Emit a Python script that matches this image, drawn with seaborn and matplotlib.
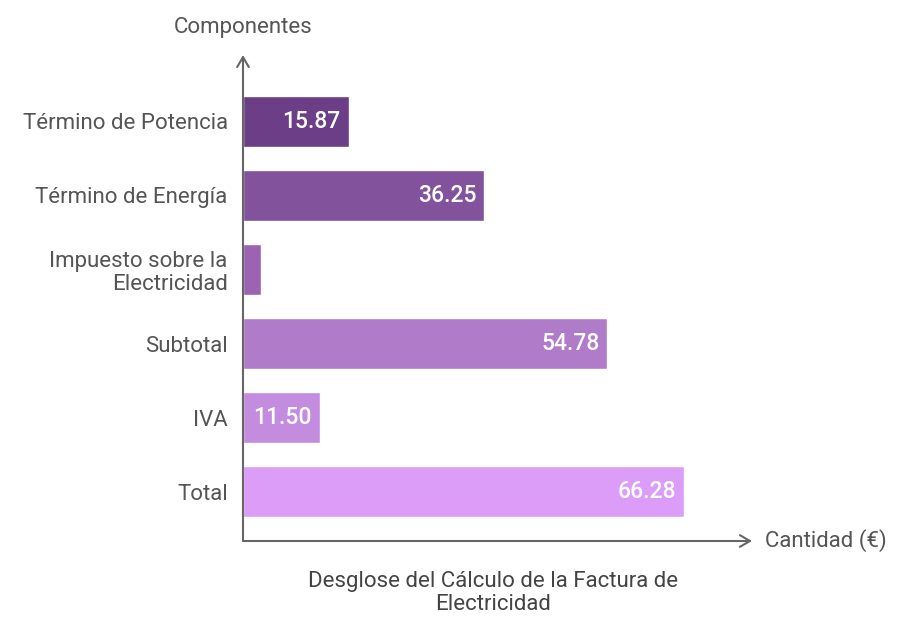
import matplotlib
matplotlib.use("Agg")
import matplotlib.pyplot as plt
import seaborn as sns
import pandas as pd

categories = ["Término de Potencia", "Término de Energía", "Impuesto sobre la\nElectricidad",
              "Subtotal", "IVA", "Total"]
values = [15.87, 36.25, 2.66, 54.78, 11.50, 66.28]
value_labels = ["15.87", "36.25", "", "54.78", "11.50", "66.28"]
colors = ["#6B3E87", "#83529C", "#9C63B3", "#B07BC8", "#C48CDE", "#DC9DF8"]

sns.set_theme(style="white")
plt.rcParams["font.family"] = ["Roboto", "DejaVu Sans"]

df = pd.DataFrame({"cat": categories, "val": values})

fig = plt.figure(figsize=(9.12, 6.35), dpi=100)
ax = fig.add_axes([243/912, (635-541)/635, (752-243)/912, (541-55)/635])

sns.barplot(data=df, y="cat", x="val", hue="cat", palette=colors, orient="h",
            width=0.69, legend=False, ax=ax, saturation=1)

ax.set_xlim(0, 76.5)
ax.set_ylim(5.662, -0.892)

for s in ax.spines.values():
    s.set_visible(False)
ax.set_xticks([])
ax.tick_params(axis="y", length=0, pad=11, labelsize=16, labelcolor="#555555")
ax.set_yticks(range(len(categories)))
ax.set_yticklabels(categories, ha="right", multialignment="right", linespacing=1.15)
ax.set_xlabel("")
ax.set_ylabel("")

for i, (v, lab) in enumerate(zip(values, value_labels)):
    if lab:
        ax.text(v - 1.2, i, lab, ha="right", va="center", color="white",
                fontsize=16.5, fontweight="medium")

axis_color = "#666666"
ax.annotate("", xy=(0, 1.0), xytext=(0, 0), xycoords="axes fraction",
            arrowprops=dict(arrowstyle="->,head_length=0.6,head_width=0.35", color=axis_color, lw=1.5,
                            shrinkA=0, shrinkB=0))
ax.annotate("", xy=(1.0, 0), xytext=(0, 0), xycoords="axes fraction",
            arrowprops=dict(arrowstyle="->,head_length=0.6,head_width=0.35", color=axis_color, lw=1.5,
                            shrinkA=0, shrinkB=0))

fig.text(243/912, 1 - 27/635, "Componentes", ha="center", va="center", fontsize=16, color="#555555")
fig.text(765/912, 1 - 541/635, "Cantidad (€)", ha="left", va="center", fontsize=16, color="#555555")
fig.text(493/912, 1 - 593/635, "Desglose del Cálculo de la Factura de\nElectricidad", ha="center",
         va="center", fontsize=16, color="#444444", linespacing=1.15)

fig.savefig("out.png", dpi=100)
